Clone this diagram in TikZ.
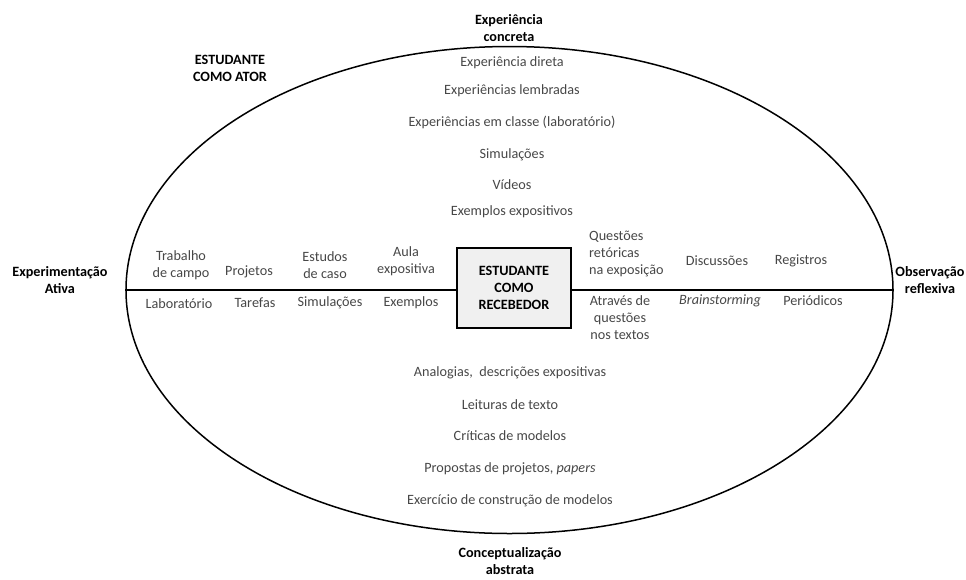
\documentclass[tikz,border=0pt]{standalone}
\usepackage{fontspec}
\setmainfont{Carlito}
\usetikzlibrary{positioning, shapes.geometric}

\begin{document}
\begin{tikzpicture}[x=1pt, y=-1pt,
    item/.style={font=\fontsize{14.2}{17}\selectfont, text=black!72, align=center, inner sep=0pt},
    pole/.style={font=\fontsize{14.2}{17}\selectfont\bfseries, text=black, align=center, inner sep=0pt}]
    \useasboundingbox (0,0) rectangle (966,579);
    % ring and axis
    \node[ellipse, draw, line width=1.5pt, minimum width=767, minimum height=487, inner sep=0pt] (ring) at (509.5,290) {};
    \node[draw, line width=1.5pt, fill=gray!12, minimum width=114, minimum height=80, inner sep=0pt, pole] (recebedor) at (514,288) {ESTUDANTE\\COMO\\RECEBEDOR};
    \draw[line width=2.6pt] (ring.west) -- (recebedor.west |- ring.west);
    \draw[line width=2.6pt] (recebedor.east |- ring.east) -- (ring.east);
    % poles
    \node[pole] (concreta) at (509,28.5) {Experiência\\concreta};
    \node[pole] (abstrata) at (510,561.5) {Conceptualização\\abstrata};
    \node[pole] (ativa) at (60,280.5) {Experimentação\\Ativa};
    \node[pole] (reflexiva) at (930,280.5) {Observação\\reflexiva};
    \node[pole] (ator) at (230,68.5) {ESTUDANTE\\COMO ATOR};
    % upper list
    \node[item] (direta) at (512,63) {Experiência direta};
    \node[item] (lembradas) at (512,91) {Experiências lembradas};
    \node[item] (classe) at (512,122) {Experiências em classe (laboratório)};
    \node[item] (simul1) at (512,155) {Simulações};
    \node[item] (videos) at (512,185) {Vídeos};
    \node[item] (expos) at (512,212) {Exemplos expositivos};
    % left side, above and below the axis
    \node[item] (campo) at (181,265.5) {Trabalho\\de campo};
    \node[item] (projetos) at (249,272) {Projetos};
    \node[item] (caso) at (325,265) {Estudos\\de caso};
    \node[item] (aula) at (406,261.5) {Aula\\expositiva};
    \node[item] (lab) at (179,304) {Laboratório};
    \node[item] (tarefas) at (255,303) {Tarefas};
    \node[item] (simul2) at (330,303) {Simulações};
    \node[item] (exemplos) at (411,303) {Exemplos};
    % right side, above and below the axis
    \node[item, align=left, anchor=west] (retoricas) at (589,254) {Questões\\retóricas\\na exposição};
    \node[item] (discussoes) at (717,261) {Discussões};
    \node[item] (registros) at (801,261) {Registros};
    \node[item] (textos) at (620,317.5) {Através de\\questões\\nos textos};
    \node[item] (brain) at (720,301) {\itshape Brainstorming};
    \node[item] (periodicos) at (813,301) {Periódicos};
    % lower list
    \node[item] (analogias) at (510,373) {Analogias,\ \ descrições expositivas};
    \node[item] (leituras) at (510,405) {Leituras de texto};
    \node[item] (criticas) at (510,436) {Críticas de modelos};
    \node[item] (propostas) at (510,469) {Propostas de projetos, \textit{papers}};
    \node[item] (construcao) at (510,501) {Exercício de construção de modelos};
\end{tikzpicture}
\end{document}
